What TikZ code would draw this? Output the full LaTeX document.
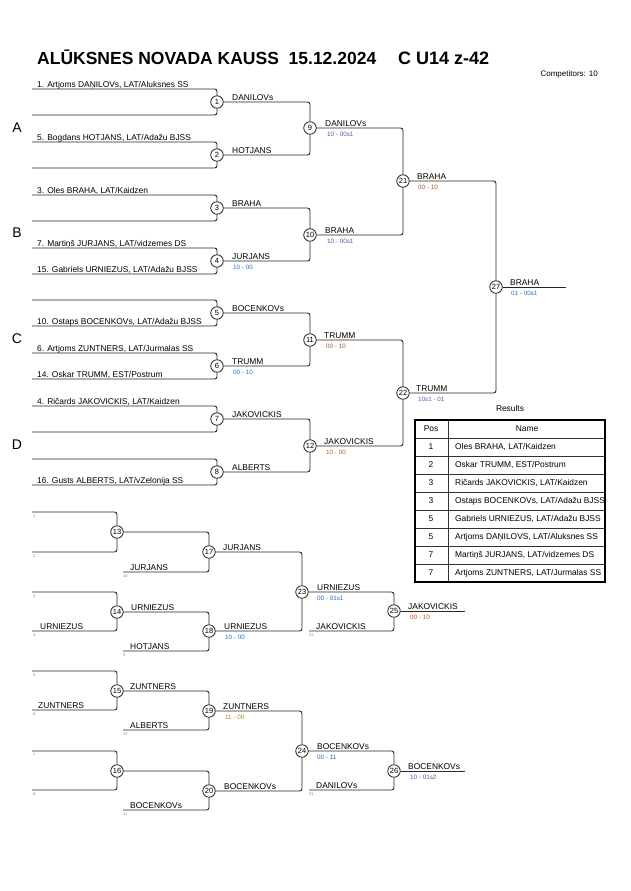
\documentclass[tikz,border=0pt]{standalone}
\usepackage{fontspec}
\setmainfont{Liberation Sans}
\definecolor{scB}{RGB}{40,110,200}
\definecolor{scR}{RGB}{175,85,40}
\definecolor{scP}{RGB}{95,85,175}
\definecolor{scO}{RGB}{185,130,20}
\begin{document}
\begin{tikzpicture}[x=1pt,y=-1pt,
  ln/.style={draw=black!85, line width=0.9pt, rounded corners=2.5pt},
  mc/.style={circle, draw=black!85, line width=0.8pt, fill=white, inner sep=0pt, minimum size=12.5pt, font=\fontsize{7.5}{8}\selectfont},
  nm/.style={anchor=base west, inner sep=0pt, font=\fontsize{8.4}{9}\selectfont},
  sc/.style={anchor=base west, inner sep=0pt, font=\fontsize{6.3}{7}\selectfont},
  tinyl/.style={anchor=base west, inner sep=0pt, font=\fontsize{4}{4}\selectfont, text=black!50},
  grp/.style={anchor=center, inner sep=0pt, font=\fontsize{14}{14}\selectfont},
  tb/.style={inner sep=0pt, font=\fontsize{8.4}{9}\selectfont}]
\useasboundingbox (0,0) rectangle (630,891);
% title
\node[anchor=base west, inner sep=0pt, font=\fontsize{17.5}{18}\selectfont\bfseries] (t1) at (37,65) {ALŪKSNES NOVADA KAUSS\ \ 15.12.2024};
\node[anchor=base west, inner sep=0pt, font=\fontsize{18}{18}\selectfont\bfseries] (t2) at (398,65) {C U14 z-42};
\node[anchor=base east, inner sep=0pt, font=\fontsize{8}{8}\selectfont] (comp) at (598,76) {Competitors: 10};
% group letters
\node[grp] (gA) at (17,128) {A};
\node[grp] (gB) at (17,233) {B};
\node[grp] (gC) at (17,339) {C};
\node[grp] (gD) at (17,445) {D};
% main circles
\foreach \i/\y in {1/102,2/155,3/208,4/261,5/313,6/366,7/419,8/472}{
  \node[mc] (m\i) at (217,\y) {\i};
  \coordinate (a\i) at (32,\y-13);
  \coordinate (b\i) at (32,\y+13);
  \draw[ln] (a\i) -| (m\i);
  \draw[ln] (b\i) -| (m\i);
}
\node[mc] (m9) at (310,128) {9};
\node[mc] (m10) at (310,235) {10};
\node[mc] (m11) at (310,340) {11};
\node[mc] (m12) at (310,446) {12};
\node[mc] (m21) at (403,181) {21};
\node[mc] (m22) at (403,393) {22};
\node[mc] (m27) at (496,287) {27};
\coordinate (f27) at (566,287);
\draw[ln] (m1) -| (m9);  \draw[ln] (m2) -| (m9);
\draw[ln] (m3) -| (m10); \draw[ln] (m4) -| (m10);
\draw[ln] (m5) -| (m11); \draw[ln] (m6) -| (m11);
\draw[ln] (m7) -| (m12); \draw[ln] (m8) -| (m12);
\draw[ln] (m9) -| (m21); \draw[ln] (m10) -| (m21);
\draw[ln] (m11) -| (m22); \draw[ln] (m12) -| (m22);
\draw[ln] (m21) -| (m27); \draw[ln] (m22) -| (m27);
\draw[ln] (m27) -- (f27);
% entry names
\node[nm] (n1) at (37,87) {1. Artjoms DAŅILOVs, LAT/Aluksnes SS};
\node[nm] (n5) at (37,140) {5. Bogdans HOTJANS, LAT/Adažu BJSS};
\node[nm] (n3) at (37,193) {3. Oles BRAHA, LAT/Kaidzen};
\node[nm] (n7) at (37,246) {7. Martiņš JURJANS, LAT/vidzemes DS};
\node[nm] (n15) at (37,272) {15. Gabriels URNIEZUS, LAT/Adažu BJSS};
\node[nm] (n10) at (37,324) {10. Ostaps BOCENKOVs, LAT/Adažu BJSS};
\node[nm] (n6) at (37,351) {6. Artjoms ZUNTNERS, LAT/Jurmalas SS};
\node[nm] (n14) at (37,377) {14. Oskar TRUMM, EST/Postrum};
\node[nm] (n4) at (37,404) {4. Ričards JAKOVICKIS, LAT/Kaidzen};
\node[nm] (n16) at (37,483) {16. Gusts ALBERTS, LAT/vZelonija SS};
% winner labels round 1
\node[nm] (w1) at (232,100) {DANILOVs};
\node[nm] (w2) at (232,153) {HOTJANS};
\node[nm] (w3) at (232,206) {BRAHA};
\node[nm] (w4) at (232,259) {JURJANS};
\node[sc, text=scB] (s4) at (233,269.5) {10 - 00};
\node[nm] (w5) at (232,311) {BOCENKOVs};
\node[nm] (w6) at (232,364) {TRUMM};
\node[sc, text=scB] (s6) at (233,374.5) {00 - 10};
\node[nm] (w7) at (232,417) {JAKOVICKIS};
\node[nm] (w8) at (232,470) {ALBERTS};
% round 2
\node[nm] (w9) at (325,126) {DANILOVs};
\node[sc, text=scP] (s9) at (327,136.5) {10 - 00s1};
\node[nm] (w10) at (325,233) {BRAHA};
\node[sc, text=scP] (s10) at (327,243.5) {10 - 00s1};
\node[nm] (w11) at (324,338) {TRUMM};
\node[sc, text=scR] (s11) at (326,348.5) {00 - 10};
\node[nm] (w12) at (324,444) {JAKOVICKIS};
\node[sc, text=scR] (s12) at (326,454.5) {10 - 00};
\node[nm] (w21) at (417,179) {BRAHA};
\node[sc, text=scR] (s21) at (418,189.5) {00 - 10};
\node[nm] (w22) at (416,391) {TRUMM};
\node[sc, text=scP] (s22) at (418,401.5) {10s1 - 01};
\node[nm] (w27) at (510,285) {BRAHA};
\node[sc, text=scB] (s27) at (511,295.5) {01 - 00s1};
% results table
\node[anchor=center, inner sep=0pt, font=\fontsize{8.4}{9}\selectfont] (res) at (510,408) {Results};
\draw[black!80, line width=0.6pt] (448,420) -- (448,582);
\foreach \y in {438,456,474,492,510,528,546,564}{\draw[black!80, line width=0.6pt] (415,\y) -- (605,\y);}
\node[tb] (hp) at (431,429) {Pos};
\node[tb] (hn) at (527,429) {Name};
\foreach \k/\p/\t in {0/1/{Oles BRAHA, LAT/Kaidzen},1/2/{Oskar TRUMM, EST/Postrum},2/3/{Ričards JAKOVICKIS, LAT/Kaidzen},3/3/{Ostaps BOCENKOVs, LAT/Adažu BJSS},4/5/{Gabriels URNIEZUS, LAT/Adažu BJSS},5/5/{Artjoms DAŅILOVS, LAT/Aluksnes SS},6/7/{Martiņš JURJANS, LAT/vidzemes DS},7/7/{Artjoms ZUNTNERS, LAT/Jurmalas SS}}{
  \node[tb] (rp\k) at (431,447+18*\k) {\p};
  \node[tb, anchor=west] (rn\k) at (455,447+18*\k) {\t};
}
\draw[black, line width=1.6pt] (415,420) rectangle (605,582);
% repechage
\node[mc] (m13) at (117,532) {13};
\node[mc] (m14) at (117,612) {14};
\node[mc] (m15) at (117,691) {15};
\node[mc] (m16) at (117,771) {16};
\node[mc] (m17) at (209,552) {17};
\node[mc] (m18) at (209,631) {18};
\node[mc] (m19) at (209,711) {19};
\node[mc] (m20) at (209,791) {20};
\node[mc] (m23) at (302,592) {23};
\node[mc] (m24) at (302,751) {24};
\node[mc] (m25) at (394,611) {25};
\node[mc] (m26) at (394,771) {26};
\foreach \i/\y/\m in {1/512/13,2/552/13,3/592/14,4/631/14,5/671/15,6/710/15,7/751/16,8/790/16}{
  \coordinate (r\i) at (32,\y);
  \draw[ln] (r\i) -| (m\m);
  \node[tinyl] (rl\i) at (33,\y+5.5) {\i};
}
\foreach \n/\y/\m/\l in {17/572/17/10,18/651/18/9,19/730/19/12,20/810/20/11}{
  \coordinate (e\n) at (123,\y);
  \draw[ln] (e\n) -| (m\m);
  \node[tinyl] (el\n) at (123,\y+5.5) {\l};
}
\coordinate (e25) at (309,631);
\coordinate (e26) at (309,790);
\coordinate (f25) at (465,611);
\coordinate (f26) at (465,771);
\draw[ln] (e25) -| (m25);
\draw[ln] (e26) -| (m26);
\node[tinyl] (el25) at (309,636.5) {22};
\node[tinyl] (el26) at (309,795.5) {21};
\draw[ln] (m13) -| (m17); \draw[ln] (m14) -| (m18);
\draw[ln] (m15) -| (m19); \draw[ln] (m16) -| (m20);
\draw[ln] (m17) -| (m23); \draw[ln] (m18) -| (m23);
\draw[ln] (m19) -| (m24); \draw[ln] (m20) -| (m24);
\draw[ln] (m23) -| (m25); \draw[ln] (m24) -| (m26);
\draw[ln] (m25) -- (f25); \draw[ln] (m26) -- (f26);
% repechage labels
\node[nm] (x4) at (40,629) {URNIEZUS};
\node[nm] (x6) at (38,708) {ZUNTNERS};
\node[nm] (x17) at (130,570) {JURJANS};
\node[nm] (x18) at (130,649) {HOTJANS};
\node[nm] (x19) at (130,728) {ALBERTS};
\node[nm] (x20) at (130,808) {BOCENKOVs};
\node[nm] (x14) at (131,610) {URNIEZUS};
\node[nm] (x15) at (130,689) {ZUNTNERS};
\node[nm] (y17) at (223,550) {JURJANS};
\node[nm] (y18) at (224,629) {URNIEZUS};
\node[sc, text=scB] (z18) at (225,639.5) {10 - 00};
\node[nm] (y19) at (223,709) {ZUNTNERS};
\node[sc, text=scO] (z19) at (225,719.5) {11 - 00};
\node[nm] (y20) at (224,789) {BOCENKOVs};
\node[nm] (y23) at (317,590) {URNIEZUS};
\node[sc, text=scB] (z23) at (317,600.5) {00 - 01s1};
\node[nm] (y25e) at (316,629) {JAKOVICKIS};
\node[nm] (y24) at (317,749) {BOCENKOVs};
\node[sc, text=scB] (z24) at (317,759.5) {00 - 11};
\node[nm] (y26e) at (316,788) {DANILOVs};
\node[nm] (y25) at (408,609) {JAKOVICKIS};
\node[sc, text=scR] (z25) at (410,619.5) {00 - 10};
\node[nm] (y26) at (408,769) {BOCENKOVs};
\node[sc, text=scP] (z26) at (410,779.5) {10 - 01s2};
\end{tikzpicture}
\end{document}
